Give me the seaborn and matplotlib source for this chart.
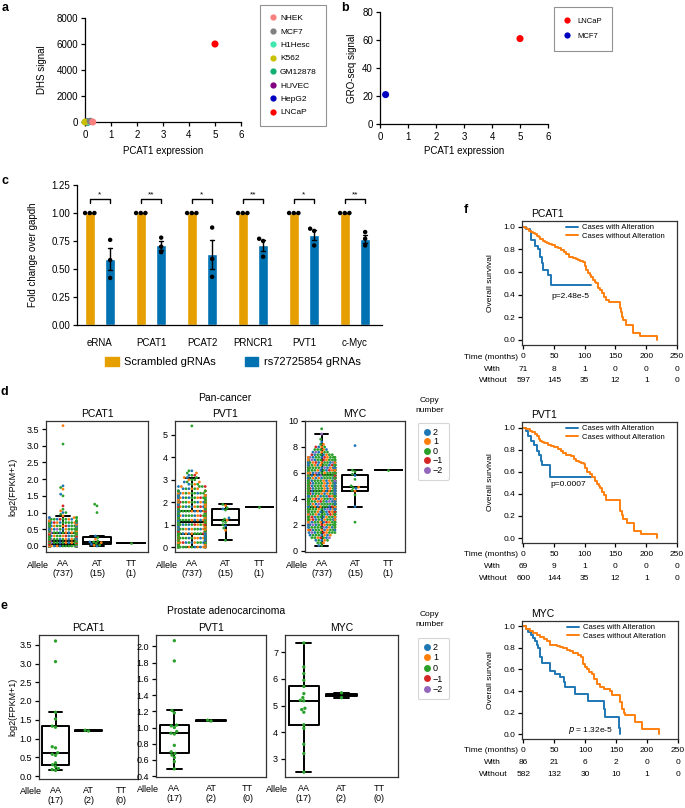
import numpy as np
import pandas as pd
import matplotlib
matplotlib.use("Agg")
import matplotlib.pyplot as plt
import seaborn as sns
from matplotlib.lines import Line2D
from matplotlib.patches import Patch

W, H = 685, 808

# ---------------- a: DHS signal vs PCAT1 expression ----------------
a_lines = ["NHEK", "MCF7", "H1Hesc", "K562", "GM12878", "HUVEC", "HepG2", "LNCaP"]
a_colors = ["#F88080", "#808080", "#40E8B0", "#C8C000", "#10B070", "#800080", "#0000C0", "#FF0000"]
a_draw_order = ["HepG2", "HUVEC", "GM12878", "H1Hesc", "K562", "MCF7", "NHEK", "LNCaP"]
a_expr = [0.30, 0.20, 0.15, 0.00, 0.10, 0.12, 0.08, 5.00]
a_dhs = [0, 60, 0, 0, 0, 0, 0, 6000]

# ---------------- b: GRO-seq signal ----------------
b_lines = ["LNCaP", "MCF7"]
b_colors = ["#FF0000", "#0000C0"]
b_expr = [5.0, 0.2]
b_gro = [61, 21]

# ---------------- c: CRISPRi fold change ----------------
c_genes = ["eRNA", "PCAT1", "PCAT2", "PRNCR1", "PVT1", "c-Myc"]
c_groups = ["Scrambled gRNAs", "rs72725854 gRNAs"]
c_colors = ["#E69F00", "#0072B2"]
c_scrambled = [[1.0, 1.0, 1.0]] * 6
c_rs = [[0.76, 0.58, 0.42], [0.78, 0.70, 0.65], [0.87, 0.59, 0.43],
        [0.77, 0.75, 0.61], [0.86, 0.84, 0.71], [0.83, 0.77, 0.71]]
c_stars = ["*", "**", "*", "**", "*", "**"]

# ---------------- d: pan-cancer expression by allele ----------------
alleles = ["AA", "AT", "TT"]
cn_order = ["2", "1", "0", "\u22121", "\u22122"]
cn_colors = ["#1f77b4", "#ff7f0e", "#2ca02c", "#d62728", "#9467bd"]

d_pcat1_levels = [0.00, 0.05, 0.10, 0.15, 0.20, 0.25, 0.30, 0.35, 0.40, 0.45, 0.50, 0.55, 0.60,
                  0.65, 0.70, 0.75, 0.80, 0.85, 0.90, 0.95, 1.00, 1.05, 1.10, 1.20, 1.50, 1.55,
                  1.70, 1.75, 1.80, 3.05, 3.60]
d_pcat1_counts = [90, 100, 90, 90, 60, 45, 40, 35, 30, 28, 25, 22, 18,
                  15, 12, 10, 8, 5, 1, 1, 2, 1, 1, 1, 1, 1,
                  1, 1, 1, 1, 1]
d_pcat1_cn_seq = ["0", "2", "0", "1", "0", "2", "0", "1", "0", "\u22121", "0", "2", "1", "0", "2", "0", "1", "\u22122"]
d_pcat1_at = [0.00, 0.02, 0.03, 0.05, 0.08, 0.10, 0.12, 0.12, 0.15, 0.20, 0.25, 0.30, 1.00, 1.20, 1.25]
d_pcat1_at_cn = ["2", "1", "0", "2", "0", "1", "0", "2", "0", "1", "0", "2", "0", "0", "0"]
d_pcat1_tt = [0.10]

d_pvt1_levels = [0.0, 0.1, 0.2, 0.3, 0.4, 0.5, 0.6, 0.7, 0.8, 0.9, 1.0, 1.1, 1.2, 1.3, 1.4, 1.5,
                 1.6, 1.7, 1.8, 1.9, 2.0, 2.1, 2.2, 2.3, 2.4, 2.5, 2.6, 2.7, 2.8, 2.9, 3.0, 3.1,
                 3.2, 3.3, 3.4, 5.4]
d_pvt1_counts = [26, 28, 28, 30, 32, 36, 36, 37, 38, 38, 36, 36, 35, 33, 31, 29,
                 27, 26, 24, 21, 18, 16, 14, 12, 10, 8, 6, 5, 4, 3, 3, 3,
                 3, 2, 2, 1]
d_pvt1_cn_seq = ["0", "1", "2", "0", "1", "0", "2", "0", "1", "0", "2", "\u22121", "0", "1", "2", "0"]
d_pvt1_at = [0.30, 0.75, 0.85, 0.95, 1.00, 1.10, 1.15, 1.20, 1.25, 1.30, 1.65, 1.70, 1.75, 1.85, 1.90]
d_pvt1_at_cn = ["0", "1", "0", "2", "0", "0", "0", "1", "0", "2", "0", "2", "0", "1", "0"]
d_pvt1_tt = [1.78]

d_myc_levels = [0.4, 0.6, 0.8, 1.0, 1.2, 1.4, 1.6, 1.8, 2.0, 2.2, 2.4, 2.6, 2.8, 3.0, 3.2,
                3.4, 3.6, 3.8, 4.0, 4.2, 4.4, 4.6, 4.8, 5.0, 5.2, 5.4, 5.6, 5.8,
                6.0, 6.2, 6.4, 6.6, 6.8, 7.0, 7.2, 7.4, 7.6, 7.8, 8.0, 8.2, 8.4, 8.6, 9.0, 9.4]
d_myc_counts = [2, 3, 5, 7, 8, 10, 11, 12, 13, 14, 15, 16, 17, 22, 24,
                27, 28, 29, 30, 30, 31, 32, 32, 32, 32, 31, 30, 28,
                26, 24, 22, 20, 18, 15, 12, 8, 6, 5, 4, 2, 1, 1, 1, 1]
d_myc_cn_seq = ["0", "2", "0", "1", "0", "2", "0", "1", "2", "0", "\u22121", "0", "1", "2", "0", "\u22122"]
d_myc_at = [2.2, 3.4, 4.3, 4.6, 4.65, 4.8, 4.85, 4.9, 5.0, 5.5, 5.8, 5.9, 6.1, 6.2, 8.1]
d_myc_at_cn = ["0", "2", "0", "1", "0", "2", "0", "1", "0", "0", "2", "0", "0", "0", "2"]
d_myc_tt = [6.2]

# ---------------- e: prostate adenocarcinoma ----------------
e_pcat1_aa = [0.15, 0.17, 0.20, 0.25, 0.30, 0.35, 0.55, 0.58, 0.62, 0.75, 0.78, 1.30, 1.33, 1.52, 1.70, 3.05, 3.60]
e_pcat1_at = [1.20, 1.22]
e_pvt1_aa = [0.49, 0.58, 0.63, 0.66, 0.68, 0.70, 0.78, 0.92, 0.93, 0.95, 1.00, 1.02, 1.03, 1.18, 1.21, 1.82, 2.07]
e_pvt1_at = [1.08, 1.09]
e_myc_aa = [2.50, 3.20, 3.55, 4.15, 4.28, 4.75, 4.85, 4.90, 5.18, 5.20, 5.30, 5.45, 5.72, 5.95, 6.20, 6.45, 7.35]
e_myc_at = [5.30, 5.48]

# ---------------- f: Kaplan-Meier curves ----------------
km_times = [0, 50, 100, 150, 200, 250]
f_pcat1_with_t = [0, 5, 11, 12, 19, 24, 27, 31, 32, 40, 45, 110]
f_pcat1_with_s = [1.0, 0.98, 0.96, 0.88, 0.83, 0.80, 0.735, 0.676, 0.618, 0.573, 0.485, 0.485]
f_pcat1_wo_t = [0, 3, 6, 9, 13, 16, 19, 22, 25, 28, 32, 35, 38, 42, 46, 51, 56, 62, 67, 70,
                75, 81, 85, 89, 93, 97, 100, 102, 105, 108, 110, 113, 116, 118, 121, 124, 128, 132, 134, 140,
                158, 159, 161, 163, 167, 179, 190, 217]
f_pcat1_wo_s = [1.0, 0.99, 0.975, 0.965, 0.956, 0.945, 0.935, 0.92, 0.91, 0.89, 0.874, 0.865, 0.853, 0.845, 0.838, 0.824, 0.815, 0.794, 0.78, 0.76,
                0.735, 0.72, 0.715, 0.706, 0.70, 0.69, 0.655, 0.618, 0.595, 0.573, 0.555, 0.53, 0.51, 0.50, 0.456, 0.44, 0.41, 0.38, 0.353, 0.338,
                0.28, 0.25, 0.206, 0.176, 0.13, 0.065, 0.038, 0.0]
f_pcat1_risk_with = [71, 8, 1, 0, 0, 0]
f_pcat1_risk_wo = [597, 145, 35, 12, 1, 0]

f_pvt1_with_t = [0, 4, 8, 12, 18, 22, 26, 29, 31, 44, 110]
f_pvt1_with_s = [1.0, 0.97, 0.925, 0.88, 0.84, 0.79, 0.75, 0.70, 0.657, 0.55, 0.55]
f_pvt1_wo_t = [0, 4, 7, 11, 15, 19, 23, 26, 28, 31, 34, 40, 45, 50, 53, 57, 61, 65, 69, 77,
               82, 86, 90, 94, 98, 101, 104, 108, 112, 116, 120, 123, 125, 128, 131, 134, 157, 160, 163, 168,
               180, 191, 218]
f_pvt1_wo_s = [1.0, 0.99, 0.985, 0.97, 0.955, 0.94, 0.925, 0.9, 0.88, 0.87, 0.86, 0.845, 0.835, 0.828, 0.82, 0.805, 0.79, 0.77, 0.75, 0.746,
               0.716, 0.70, 0.69, 0.68, 0.67, 0.635, 0.60, 0.575, 0.55, 0.52, 0.49, 0.47, 0.45, 0.42, 0.39, 0.34, 0.245, 0.21, 0.17, 0.14,
               0.064, 0.04, 0.0]
f_pvt1_risk_with = [69, 9, 1, 0, 0, 0]
f_pvt1_risk_wo = [600, 144, 35, 12, 1, 0]

f_myc_with_t = [0, 4, 8, 12, 16, 19, 22, 24, 27, 30, 43, 51, 59, 66, 68, 84, 105, 130, 132, 155, 157]
f_myc_with_s = [1.0, 0.98, 0.95, 0.92, 0.89, 0.86, 0.83, 0.80, 0.72, 0.656, 0.59, 0.56, 0.53, 0.48, 0.44, 0.375, 0.31, 0.23, 0.16, 0.06, 0.0]
f_myc_wo_t = [0, 5, 11, 16, 22, 27, 33, 38, 43, 48, 54, 60, 65, 70, 76, 81, 88, 94, 97, 100,
              103, 107, 111, 115, 119, 124, 130, 140, 143, 157, 159, 162, 165, 181, 192, 219]
f_myc_wo_s = [1.0, 0.975, 0.96, 0.94, 0.92, 0.90, 0.88, 0.86, 0.83, 0.825, 0.815, 0.805, 0.80, 0.785, 0.77, 0.755, 0.735, 0.72, 0.65, 0.625,
              0.60, 0.58, 0.555, 0.51, 0.465, 0.44, 0.42, 0.40, 0.36, 0.30, 0.235, 0.20, 0.174, 0.113, 0.052, 0.0]
f_myc_risk_with = [86, 21, 6, 2, 0, 0]
f_myc_risk_wo = [582, 132, 30, 10, 1, 0]

KM_BLUE = "#1f77b4"
KM_ORANGE = "#ff7f0e"

# ---------------- style ----------------
sns.set_theme(style="ticks")
plt.rcParams["font.family"] = ["Liberation Sans", "DejaVu Sans"]
plt.rcParams.update({
    "font.size": 6.5, "axes.linewidth": 0.9, "axes.edgecolor": "black",
    "xtick.labelsize": 6.5, "ytick.labelsize": 6.5,
    "xtick.major.size": 3, "ytick.major.size": 3,
    "xtick.major.width": 0.9, "ytick.major.width": 0.9,
    "xtick.major.pad": 2.5, "ytick.major.pad": 2,
    "xtick.color": "black", "ytick.color": "black", "text.color": "black",
})

fig = plt.figure(figsize=(W / 100, H / 100), dpi=100)


def px_axes(l, t, r, b):
    return fig.add_axes([l / W, 1 - b / H, (r - l) / W, (b - t) / H])


def px_text(x, y, s, **kw):
    kw.setdefault("ha", "center")
    kw.setdefault("va", "center")
    fig.text(x / W, 1 - y / H, s, **kw)


def dot_handles(colors, ms):
    return [Line2D([], [], marker="o", ls="", color=c, markersize=ms, markeredgewidth=0) for c in colors]


# panel letters
for lab, x, y in [("a", 5, 8), ("b", 345, 8), ("c", 5, 181), ("d", 4, 392), ("e", 4, 606), ("f", 466, 210)]:
    px_text(x, y, lab, fontsize=9, fontweight="bold")

# ================= a =================
df_a = pd.DataFrame({"line": a_lines, "expr": a_expr, "dhs": a_dhs}).set_index("line").loc[a_draw_order].reset_index()
ax = px_axes(85, 18, 241, 122)
sns.scatterplot(data=df_a, x="expr", y="dhs", hue="line", hue_order=a_lines,
                palette=dict(zip(a_lines, a_colors)), s=26, linewidth=0, clip_on=False, legend=False, ax=ax, zorder=3)
ax.set_xlim(0, 6)
ax.set_ylim(0, 8000)
ax.set_xticks(range(7))
ax.set_yticks([0, 2000, 4000, 6000, 8000])
ax.tick_params(labelsize=7)
ax.set_xlabel("")
ax.set_ylabel("")
sns.despine(ax=ax)
px_text(163, 151, "PCAT1 expression", fontsize=7)
px_text(42, 70, "DHS signal", fontsize=7, rotation=90)
ax.legend(dot_handles(a_colors, 4.5), a_lines, loc="upper left", bbox_to_anchor=(260 / W, 1 - 5 / H),
          bbox_transform=fig.transFigure, frameon=True, fancybox=False, edgecolor="#777777",
          fontsize=6, borderpad=1.1, labelspacing=0.68, handlelength=0.8, handletextpad=0.5,
          borderaxespad=0).get_frame().set_linewidth(0.8)

# ================= b =================
df_b = pd.DataFrame({"line": b_lines, "expr": b_expr, "gro": b_gro})
ax = px_axes(380, 12, 548, 124)
sns.scatterplot(data=df_b, x="expr", y="gro", hue="line", hue_order=b_lines,
                palette=dict(zip(b_lines, b_colors)), s=26, linewidth=0, clip_on=False, legend=False, ax=ax, zorder=3)
ax.set_xlim(0, 6)
ax.set_ylim(0, 80)
ax.set_xticks(range(7))
ax.set_yticks([0, 20, 40, 60, 80])
ax.tick_params(labelsize=7)
ax.set_xlabel("")
ax.set_ylabel("")
sns.despine(ax=ax)
px_text(464, 151, "PCAT1 expression", fontsize=7)
px_text(352, 68, "GRO-seq signal", fontsize=7, rotation=90)
ax.legend(dot_handles(b_colors, 4.5), b_lines, loc="upper left", bbox_to_anchor=(554 / W, 1 - 7 / H),
          bbox_transform=fig.transFigure, frameon=True, fancybox=False, edgecolor="#777777",
          fontsize=5.5, borderpad=1.4, labelspacing=1.0, handlelength=0.6, handletextpad=1.0,
          borderaxespad=0).get_frame().set_linewidth(0.8)

# ================= c =================
rows = []
for g, scr, rs in zip(c_genes, c_scrambled, c_rs):
    for v in scr:
        rows.append((g, c_groups[0], v))
    for v in rs:
        rows.append((g, c_groups[1], v))
df_c = pd.DataFrame(rows, columns=["gene", "group", "fold"])
ax = px_axes(77, 185, 382, 325)
sns.barplot(data=df_c, x="gene", y="fold", hue="group", hue_order=c_groups, palette=c_colors,
            saturation=1, errorbar="se", capsize=0.15, err_kws={"color": "black", "linewidth": 1.0},
            width=0.8, gap=0.5, legend=False, ax=ax)
sns.swarmplot(data=df_c, x="gene", y="fold", hue="group", hue_order=c_groups, palette=["black", "black"],
              dodge=True, size=3.2, linewidth=0, legend=False, ax=ax, zorder=4)
ax.set_xlim(-0.45, 5.53)
ax.set_ylim(0, 1.25)
ax.set_yticks([0, 0.25, 0.5, 0.75, 1.0, 1.25])
ax.set_yticklabels(["0.00", "0.25", "0.50", "0.75", "1.00", "1.25"], fontsize=7)
ax.tick_params(axis="x", length=0, pad=9, labelsize=7)
ax.set_xlabel("")
ax.set_ylabel("")
sns.despine(ax=ax)
for i, star in enumerate(c_stars):
    ax.plot([i - 0.2, i - 0.2, i + 0.2, i + 0.2], [1.087, 1.125, 1.125, 1.087], color="black", lw=1.0, clip_on=False)
    ax.text(i, 1.13, star, ha="center", va="bottom", fontsize=6)
px_text(33, 255, "Fold change over gapdh", fontsize=7, rotation=90)
fig.legend([Patch(color=c) for c in c_colors], c_groups, loc="center", bbox_to_anchor=(233 / W, 1 - 362 / H),
           ncol=2, frameon=False, fontsize=8, handlelength=1.2, handleheight=0.9, columnspacing=2.6,
           handletextpad=0.5)


# ================= d / e =================
def build_expr(levels, counts, cn_seq, at_vals, at_cn, tt_vals):
    vals, cns, alle = [], [], []
    k = 0
    for v, n in zip(levels, counts):
        for _ in range(n):
            vals.append(v)
            cns.append(cn_seq[k % len(cn_seq)])
            alle.append("AA")
            k += 1
    vals += list(at_vals)
    cns += list(at_cn)
    alle += ["AT"] * len(at_vals)
    vals += list(tt_vals)
    cns += ["0"] * len(tt_vals)
    alle += ["TT"] * len(tt_vals)
    return pd.DataFrame({"allele": alle, "value": vals, "cn": cns})


def build_prostate(aa, at):
    return pd.DataFrame({"allele": ["AA"] * len(aa) + ["AT"] * len(at), "value": list(aa) + list(at),
                         "cn": ["0"] * (len(aa) + len(at))})


def expr_panel(ax, df, ylim, yticks, yfmt, title, ticklabels, dot):
    sns.boxplot(data=df, x="allele", y="value", order=alleles, fill=False, color="black",
                width=0.8, linewidth=1.4, showfliers=False, ax=ax)
    sns.swarmplot(data=df, x="allele", y="value", order=alleles, hue="cn", hue_order=cn_order,
                  palette=cn_colors, size=dot, linewidth=0, legend=False, warn_thresh=1, ax=ax, zorder=3)
    ax.set_ylim(*ylim)
    ax.set_xlim(-0.5, 2.5)
    ax.set_yticks(yticks)
    ax.set_yticklabels([yfmt.format(v) for v in yticks])
    ax.set_xticks(range(3))
    ax.set_xticklabels(ticklabels, linespacing=1.15)
    ax.tick_params(axis="x", length=0, pad=5)
    ax.set_xlabel("")
    ax.set_ylabel("")
    ax.set_title(title, fontsize=7.5, pad=3)
    for sp in ax.spines.values():
        sp.set_visible(True)
        sp.set_color("#333333")
        sp.set_linewidth(0.9)
    ax.annotate("Allele", xy=(0, 0), xycoords="axes fraction", xytext=(-8, -13), textcoords="offset pixels",
                ha="center", va="center", fontsize=6.5)


d_labels = ["AA\n(737)", "AT\n(15)", "TT\n(1)"]
ax = px_axes(46, 421, 148, 552)
expr_panel(ax, build_expr(d_pcat1_levels, d_pcat1_counts, d_pcat1_cn_seq, d_pcat1_at, d_pcat1_at_cn, d_pcat1_tt),
           (-0.18, 3.74), [0, 0.5, 1.0, 1.5, 2.0, 2.5, 3.0, 3.5], "{:.1f}", "PCAT1", d_labels, 2.0)
ax = px_axes(175, 421, 276, 552)
expr_panel(ax, build_expr(d_pvt1_levels, d_pvt1_counts, d_pvt1_cn_seq, d_pvt1_at, d_pvt1_at_cn, d_pvt1_tt),
           (-0.22, 5.62), [0, 1, 2, 3, 4, 5], "{:.0f}", "PVT1", d_labels, 2.0)
ax = px_axes(305, 421, 405, 552)
expr_panel(ax, build_expr(d_myc_levels, d_myc_counts, d_myc_cn_seq, d_myc_at, d_myc_at_cn, d_myc_tt),
           (-0.1, 10.0), [0, 2, 4, 6, 8, 10], "{:.0f}", "MYC", d_labels, 2.0)
px_text(225, 398, "Pan-cancer", fontsize=7.5)
px_text(13, 487, "log2(FPKM+1)", fontsize=6.5, rotation=90)

e_labels = ["AA\n(17)", "AT\n(2)", "TT\n(0)"]
ax = px_axes(39, 635, 138, 779)
expr_panel(ax, build_prostate(e_pcat1_aa, e_pcat1_at), (-0.08, 3.76),
           [0, 0.5, 1.0, 1.5, 2.0, 2.5, 3.0, 3.5], "{:.1f}", "PCAT1", e_labels, 2.4)
ax = px_axes(156, 635, 266, 777)
expr_panel(ax, build_prostate(e_pvt1_aa, e_pvt1_at), (0.39, 2.14),
           [0.4, 0.6, 0.8, 1.0, 1.2, 1.4, 1.6, 1.8, 2.0], "{:.1f}", "PVT1", e_labels, 2.4)
ax = px_axes(285, 635, 398, 777)
expr_panel(ax, build_prostate(e_myc_aa, e_myc_at), (2.32, 7.65),
           [3, 4, 5, 6, 7], "{:.0f}", "MYC", e_labels, 2.4)
px_text(226, 611, "Prostate adenocarcinoma", fontsize=7.5)
px_text(13, 707, "log2(FPKM+1)", fontsize=6.5, rotation=90)

# copy number legends
for top, title_y, spacing in [(418, 400, 0.05), (633, 614, 0.17)]:
    px_text(430, title_y, "Copy", fontsize=6)
    px_text(430, title_y + 11, "number", fontsize=6)
    leg = fig.legend(dot_handles(cn_colors, 5), cn_order, loc="upper left", bbox_to_anchor=(413 / W, 1 - top / H),
                     frameon=True, fancybox=True, edgecolor="#cccccc", fontsize=6.5, borderpad=0.6,
                     labelspacing=spacing, handlelength=0.8, handletextpad=0.3)
    leg.get_frame().set_linewidth(0.8)


# ================= f =================
def km_panel(box, title, with_t, with_s, wo_t, wo_s, risk_with, risk_wo, ptext, pxy):
    l, t, r, b = box
    ax = px_axes(l, t, r, b)
    sns.lineplot(x=with_t, y=with_s, drawstyle="steps-post", color=KM_BLUE, lw=1.4,
                 label="Cases with Alteration", ax=ax)
    sns.lineplot(x=wo_t, y=wo_s, drawstyle="steps-post", color=KM_ORANGE, lw=1.4,
                 label="Cases without Alteration", ax=ax)
    ax.set_xlim(-2, 250)
    ax.set_ylim(-0.045, 1.05)
    ax.set_xticks(km_times)
    ax.set_yticks([0, 0.2, 0.4, 0.6, 0.8, 1.0])
    ax.set_yticklabels(["0.0", "0.2", "0.4", "0.6", "0.8", "1.0"])
    ax.tick_params(labelsize=6)
    ax.set_xlabel("")
    ax.set_ylabel("")
    for sp in ax.spines.values():
        sp.set_color("#333333")
        sp.set_linewidth(0.9)
    ax.legend(loc="upper right", bbox_to_anchor=(1 - 9 / (r - l), 1.0), borderaxespad=0, frameon=False,
              fontsize=5.5, handlelength=1.6, handletextpad=0.5, labelspacing=0.1)
    ax.text(pxy[0], pxy[1], ptext, ha="center", va="center", fontsize=6)
    ax.set_title(title, fontsize=7.5, loc="left", x=0.06, pad=3)
    px_text(490, (t + b) / 2, "Overall survival", fontsize=6, rotation=90)
    ax.annotate("Time (months)", xy=(0, 0), xycoords="axes fraction", xytext=(-4, -12),
                textcoords="offset pixels", ha="right", va="center", fontsize=6)
    ax.annotate("With", xy=(0, 0), xycoords="axes fraction", xytext=(-30, -24),
                textcoords="offset pixels", ha="center", va="center", fontsize=6)
    ax.annotate("Without", xy=(0, 0), xycoords="axes fraction", xytext=(-29, -35),
                textcoords="offset pixels", ha="center", va="center", fontsize=6)
    for tm, nw, nwo in zip(km_times, risk_with, risk_wo):
        ax.annotate(str(nw), xy=(tm, 0), xycoords=("data", "axes fraction"), xytext=(0, -24),
                    textcoords="offset pixels", ha="center", va="center", fontsize=6)
        ax.annotate(str(nwo), xy=(tm, 0), xycoords=("data", "axes fraction"), xytext=(0, -35),
                    textcoords="offset pixels", ha="center", va="center", fontsize=6)


km_panel((522, 221, 677, 345), "PCAT1", f_pcat1_with_t, f_pcat1_with_s, f_pcat1_wo_t, f_pcat1_wo_s,
         f_pcat1_risk_with, f_pcat1_risk_wo, "p=2.48e-5", (76, 0.38))
km_panel((522, 422, 677, 543), "PVT1", f_pvt1_with_t, f_pvt1_with_s, f_pvt1_wo_t, f_pvt1_wo_s,
         f_pvt1_risk_with, f_pvt1_risk_wo, "p=0.0007", (73, 0.48))
km_panel((522, 621, 678, 739), "MYC", f_myc_with_t, f_myc_with_s, f_myc_wo_t, f_myc_wo_s,
         f_myc_risk_with, f_myc_risk_wo, "$p$ = 1.32e-5", (108, 0.03))

fig.savefig("out.png", dpi=100)
